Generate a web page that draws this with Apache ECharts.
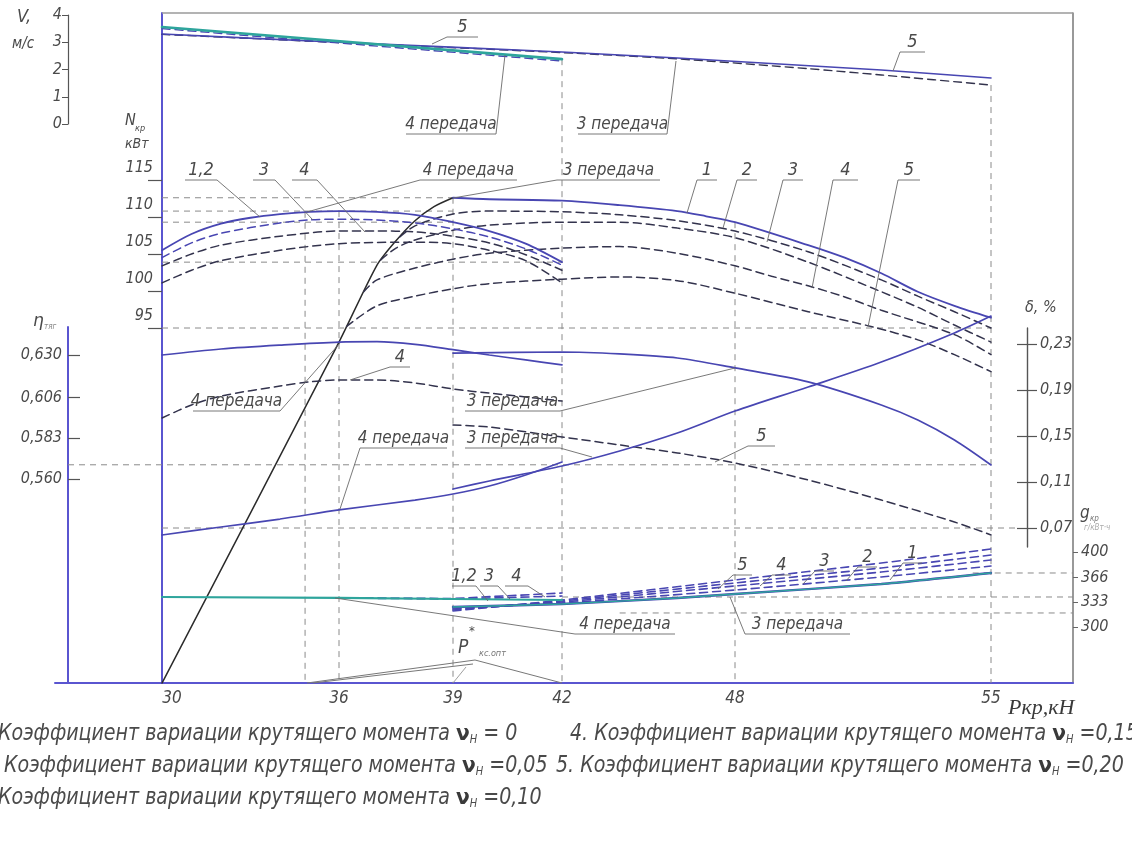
<!DOCTYPE html>
<html lang="ru">
<head>
<meta charset="utf-8">
<title>Тяговые показатели</title>
<script src="https://cdn.jsdelivr.net/npm/echarts@6.0.0/dist/echarts.min.js"></script>
<style>
html,body{margin:0;padding:0;background:#fff;}
#chart{width:1132px;height:841px;}
</style>
</head>
<body>
<div id="chart"></div>
<script>
// ================= values =================
const pkrTicks   = [30, 36, 39, 42, 48, 55];           // Ркр, кН
const vTicks     = [0, 1, 2, 3, 4];                     // V, м/с
const nTicks     = [95, 100, 105, 110, 115];            // Nкр, кВт
const etaTicks   = [0.560, 0.583, 0.606, 0.630];        // ηтяг
const deltaTicks = [0.07, 0.11, 0.15, 0.19, 0.23];      // δ, %
const gTicks     = [300, 333, 366, 400];                // gкр, г/кВт·ч

// speed V, м/с  — [Ркр, V]
const v4_c1 = [[30, 3.56], [42, 2.38]];
const v4_c5 = [[30, 3.50], [42, 2.31]];
const v3_c1 = [[30, 3.30], [36, 3.00], [42, 2.64], [46, 2.42], [52, 1.98], [55, 1.69]];
const v3_c5 = [[30, 3.29], [36, 2.99], [42, 2.62], [46, 2.39], [50, 2.03], [52, 1.80], [55, 1.43]];

// drawbar power Nкр, кВт — 3rd gear
const n3_rise = [[30, 47.0], [36, 93.1], [37, 103.5], [37.5, 106.8], [38, 109.5], [38.5, 111.4], [39, 112.6]];
const n3_c1 = [[39, 112.6], [40, 112.4], [42, 112.2], [44, 111.6], [46, 110.8], [47, 110.1], [48, 109.3], [50, 106.2], [51, 104.5], [52, 102.4], [53, 99.9], [54, 98.0], [55, 96.4]];
const n3_c2 = [[37.6, 107.3], [38, 108.8], [39, 110.4], [40, 110.8], [42, 110.7], [44, 110.3], [46, 109.5], [48, 108.1], [50, 105.3], [52, 101.5], [53, 99.3], [54, 97.2], [55, 95.0]];
const n3_c3 = [[37.1, 104.2], [37.5, 105.8], [38, 106.9], [39, 108.2], [40, 108.9], [42, 109.3], [44, 109.3], [46, 108.5], [48, 107.2], [50, 103.9], [52, 99.9], [53, 97.8], [54, 95.4], [55, 93.1]];
const n3_c4 = [[36.65, 99.9], [37, 101.5], [38, 103.1], [39, 104.3], [40, 105.1], [42, 105.8], [44, 106.0], [46, 105.1], [48, 103.4], [49, 102.0], [50, 100.7], [51, 99.2], [52, 97.4], [54, 94.1], [55, 91.4]];
const n3_c5 = [[36.2, 95.2], [37, 98.0], [38, 99.3], [39, 100.3], [40, 101.0], [42, 101.6], [44, 101.9], [46, 101.4], [48, 99.7], [50, 97.2], [51.8, 95.1], [53, 93.4], [54, 91.4], [55, 89.1]];
// drawbar power Nкр, кВт — 4th gear
const n4_c12 = [[30, 105.5], [31, 107.7], [32, 109.1], [33, 109.9], [34, 110.4], [35, 110.7], [36, 110.8], [37, 110.7], [38, 110.3], [39, 109.3], [40, 108.1], [41, 106.4], [42, 103.9]];
const n4_c3 = [[30, 104.5], [31, 106.5], [32, 107.8], [34, 109.2], [35, 109.6], [36, 109.7], [37, 109.6], [38, 109.2], [39, 108.4], [40, 107.3], [41, 105.7], [42, 103.5]];
const n4_c4 = [[30, 103.4], [31, 105.0], [32, 106.2], [34, 107.4], [36, 108.1], [37, 108.1], [38, 108.0], [39, 107.4], [40, 106.5], [41, 104.9], [42, 102.8]];
const n4_c5 = [[30, 101.1], [31, 102.8], [32, 104.1], [34, 105.5], [36, 106.4], [38, 106.6], [39, 106.4], [40, 105.5], [41, 104.1], [42, 101.1]];

// tractive efficiency ηтяг
const eta4_c1 = [[30, 0.6300], [32, 0.6334], [34, 0.6356], [36, 0.6373], [37, 0.6375], [38, 0.6360], [39, 0.6330], [40, 0.6300], [41, 0.6272], [42, 0.6244]];
const eta4_c4 = [[30, 0.5944], [31, 0.6018], [32, 0.6068], [34, 0.6125], [35, 0.6148], [36, 0.6159], [37, 0.6159], [38, 0.6142], [39, 0.6108], [40, 0.6085], [41, 0.6063], [42, 0.6040]];
const eta3_c1 = [[39, 0.6311], [42, 0.6317], [44, 0.6306], [46, 0.6283], [48, 0.6227], [50, 0.6148], [52, 0.6018], [53, 0.5933], [54, 0.5820], [55, 0.5679]];
const eta3_c5 = [[39, 0.5905], [40, 0.5893], [42, 0.5837], [44, 0.5792], [46, 0.5747], [48, 0.5690], [50, 0.5594], [52, 0.5481], [54, 0.5357], [55, 0.5284]];

// slip δ, %
const delta4 = [[30, 0.0639], [32, 0.0709], [34, 0.0778], [36, 0.0857], [38, 0.0943], [39, 0.0996], [40, 0.1065], [41, 0.1161], [42, 0.1274]];
const delta3 = [[39, 0.1039], [40, 0.1109], [42, 0.1239], [44, 0.1370], [46, 0.1526], [48, 0.1717], [50, 0.1926], [52, 0.2143], [54, 0.2396], [55, 0.2543]];

// specific fuel consumption gкр, г/кВт·ч
const g4_c1 = [[30, 340.0], [36, 338.7], [39, 337.3], [42, 336.0]];
const g4_c3 = [[36, 338.7], [39, 337.3], [42, 341.3]];
const g4_c4 = [[36, 338.7], [39, 338.0], [42, 345.3]];
const g3_c1 = [[39, 326.7], [42, 330.7], [46, 338.7], [48, 344.0], [52, 357.3], [55, 372.0]];
const g3_c2 = [[39, 325.3], [42, 332.0], [48, 349.3], [52, 366.7], [55, 381.3]];
const g3_c3 = [[39, 324.0], [42, 333.3], [48, 354.7], [52, 373.3], [55, 389.3]];
const g3_c4 = [[39, 322.7], [42, 334.7], [48, 358.7], [52, 378.7], [55, 396.0]];
const g3_c5 = [[39, 321.3], [42, 336.0], [48, 362.7], [52, 385.3], [55, 404.0]];

// construction lines: [level, from Ркр, to Ркр]
const nLevels = [[112.6, 30, 39], [110.8, 30, 39], [109.3, 30, 39], [103.9, 30, 42], [95.0, 30, 55]];
const etaLevel = 0.568;
const deltaLevel = 0.07;
const gLevels = [[372.0, 54.5], [340.0, 42], [318.7, 44]];
// vertical construction lines: [Ркр, quantity, upper value]
const pkrLines = [[34.85, 'N', 110.7], [36, 'N', 110.8], [39, 'N', 112.6], [42, 'V', 2.38], [48, 'N', 109.3], [55, 'V', 1.43]];

// ================= layout =================
const FONT = "'Liberation Sans Narrow','DejaVu Sans Condensed','Arial Narrow',sans-serif";
const SERIF = "'Liberation Serif','DejaVu Serif',serif";
const TXT = '#4a4a4a';
const LEAD = '#6a6a6a';
const AXIS_BLUE = '#5a55d0';
const BLUE = '#4846b2';
const DARK = '#33334d';
const TEAL = '#2ea59c';
const REF = '#8a8a8a';

// Main frame: the plot spans x 55..1073, y 13..683; the Ркр = 30 line lies 107 px in.
const U_MIN = -107, U_MAX = 911;
const X_SCALE_U = [0, 177, 291, 400, 573, 829];    // hand-drawn Ркр scale of the nomogram
const ETA_AXIS_U = -94, DELTA_TICK_U = 855;

// vertical ranges of each quantity across the full frame height
const RANGE = {
  N: [47.027, 137.568],
  V: [-20.514, 4.0734],
  eta: [0.44479, 0.82311],
  delta: [-0.06478, 0.51783],
  g: [225.333, 1118.667]
};
const AX = { N: 0, V: 1, eta: 2, delta: 3, g: 4 };

function toU(p) {
  const k = pkrTicks, u = X_SCALE_U;
  let i = 0;
  if (p >= k[k.length - 1]) i = k.length - 2;
  else if (p > k[0]) { while (p > k[i + 1]) i++; }
  return u[i] + (p - k[i]) * (u[i + 1] - u[i]) / (k[i + 1] - k[i]);
}
const xTickU = pkrTicks.map(toU);

function curve(data, yAxisIndex, color, width, dash, smooth, z) {
  return {
    type: 'line', xAxisIndex: 0, yAxisIndex,
    data: data.map(d => [toU(d[0]), d[1]]),
    symbol: 'none', silent: true, smooth: smooth == null ? 0.3 : smooth,
    lineStyle: { color, width, type: dash ? [8, 5] : 'solid', cap: 'round' },
    z: z || 3
  };
}
function segment(pts, yAxisIndex) {
  return {
    type: 'line', xAxisIndex: 0, yAxisIndex, data: pts, symbol: 'none', silent: true,
    lineStyle: { color: REF, width: 1, type: [6, 5] }, z: 1
  };
}

const series = [];
// construction lines
nLevels.forEach(([v, a, b]) => series.push(segment([[toU(a), v], [toU(b), v]], AX.N)));
series.push(segment([[ETA_AXIS_U, etaLevel], [toU(55), etaLevel]], AX.eta));
series.push(segment([[toU(30), deltaLevel], [DELTA_TICK_U, deltaLevel]], AX.delta));
gLevels.forEach(([v, a]) => series.push(segment([[toU(a), v], [U_MAX, v]], AX.g)));
pkrLines.forEach(([p, q, top]) => series.push(segment([[toU(p), top], [toU(p), RANGE[q][0]]], AX[q])));

// speed
series.push(curve(v3_c5, AX.V, DARK, 1.4, true, 0.2));
series.push(curve(v3_c1, AX.V, BLUE, 1.6, false, 0.2));
series.push(curve(v4_c5, AX.V, BLUE, 1.4, true, 0));
series.push(curve(v4_c1, AX.V, TEAL, 2.6, false, 0));
// power, 3rd gear
series.push(curve(n3_rise, AX.N, '#2b2b2b', 1.5, false, 0.25));
series.push(curve(n3_c1, AX.N, BLUE, 1.8, false));
series.push(curve(n3_c2, AX.N, DARK, 1.5, true));
series.push(curve(n3_c3, AX.N, DARK, 1.5, true));
series.push(curve(n3_c4, AX.N, DARK, 1.5, true));
series.push(curve(n3_c5, AX.N, DARK, 1.5, true));
// power, 4th gear
series.push(curve(n4_c5, AX.N, DARK, 1.5, true));
series.push(curve(n4_c4, AX.N, DARK, 1.5, true));
series.push(curve(n4_c3, AX.N, BLUE, 1.5, true));
series.push(curve(n4_c12, AX.N, BLUE, 1.8, false));
// efficiency
series.push(curve(eta4_c1, AX.eta, BLUE, 1.7, false));
series.push(curve(eta4_c4, AX.eta, DARK, 1.5, true));
series.push(curve(eta3_c1, AX.eta, BLUE, 1.7, false));
series.push(curve(eta3_c5, AX.eta, DARK, 1.5, true));
// slip
series.push(curve(delta4, AX.delta, BLUE, 1.7, false));
series.push(curve(delta3, AX.delta, BLUE, 1.7, false));
// fuel consumption
series.push(curve(g3_c5, AX.g, BLUE, 1.6, true, 0.2));
series.push(curve(g3_c4, AX.g, BLUE, 1.6, true, 0.2));
series.push(curve(g3_c3, AX.g, BLUE, 1.6, true, 0.2));
series.push(curve(g3_c2, AX.g, BLUE, 1.6, true, 0.2));
series.push(curve(g3_c1, AX.g, BLUE, 2.4, false, 0.2));
series.push(curve(g3_c1, AX.g, TEAL, 1.4, false, 0.2, 4));
series.push(curve(g4_c4, AX.g, BLUE, 1.6, true, 0));
series.push(curve(g4_c3, AX.g, BLUE, 1.6, true, 0));
series.push(curve(g4_c1, AX.g, TEAL, 2.2, false, 0, 4));

// ================= axes =================
const labelBase = { color: TXT, fontStyle: 'italic', fontFamily: FONT, fontSize: 16 };
const commaFmt = d => v => v.toFixed(d).replace('.', ',');

const grids = [
  { left: 55, top: 13, width: 1018, height: 670, outerBoundsMode: 'none', containLabel: false },
  { left: 68, top: 15, width: 1, height: 109, outerBoundsMode: 'none', containLabel: false },
  { left: 68, top: 327, width: 1, height: 356, outerBoundsMode: 'none', containLabel: false },
  { left: 1017, top: 328, width: 20, height: 219, outerBoundsMode: 'none', containLabel: false }
];
const hiddenX = i => ({ gridIndex: i, type: 'value', min: 0, max: 1, show: false });

const xAxes = [
  {
    gridIndex: 0, type: 'value', min: U_MIN, max: U_MAX, position: 'bottom',
    axisLine: { show: true, onZero: false, lineStyle: { color: AXIS_BLUE, width: 2 } },
    axisTick: { show: false }, splitLine: { show: false },
    axisLabel: Object.assign({}, labelBase, {
      fontSize: 17, customValues: xTickU, margin: 7,
      rich: { first: { fontSize: 17, fontStyle: 'italic', fontFamily: FONT, color: TXT, padding: [0, 0, 0, 20] } },
      formatter: v => {
        const i = xTickU.findIndex(u => Math.abs(u - v) < 0.5);
        if (i < 0) return '';
        return i === 0 ? '{first|' + pkrTicks[i] + '}' : String(pkrTicks[i]);
      }
    })
  },
  hiddenX(1), hiddenX(2), hiddenX(3)
];

const hiddenY = r => ({ gridIndex: 0, type: 'value', min: r[0], max: r[1], show: false });
const yAxes = [
  { // Nкр on the left frame line
    gridIndex: 0, type: 'value', min: RANGE.N[0], max: RANGE.N[1], position: 'left', offset: -107,
    axisLine: { show: true, onZero: false, lineStyle: { color: AXIS_BLUE, width: 2 } },
    axisTick: { show: true, customValues: nTicks, length: 14, lineStyle: { color: '#555', width: 1.2 } },
    axisLabel: Object.assign({}, labelBase, { customValues: nTicks, margin: 9, verticalAlign: 'bottom', padding: [0, 0, 4, 0] }),
    splitLine: { show: false }
  },
  hiddenY(RANGE.V), hiddenY(RANGE.eta), hiddenY(RANGE.delta),
  { // gкр on the right frame line
    gridIndex: 0, type: 'value', min: RANGE.g[0], max: RANGE.g[1], position: 'right', offset: 0,
    axisLine: { show: true, onZero: false, lineStyle: { color: '#777', width: 1.5 } },
    axisTick: { show: true, customValues: gTicks, length: 5, lineStyle: { color: '#666' } },
    axisLabel: Object.assign({}, labelBase, { customValues: gTicks, margin: 8 }),
    splitLine: { show: false }
  },
  { // V
    gridIndex: 1, type: 'value', min: 0, max: 4, interval: 1, position: 'left',
    axisLine: { show: true, onZero: false, lineStyle: { color: '#555', width: 1.2 } },
    axisTick: { show: true, length: 6, lineStyle: { color: '#555' } },
    axisLabel: Object.assign({}, labelBase, { margin: 6 }),
    splitLine: { show: false }
  },
  { // ηтяг
    gridIndex: 2, type: 'value', min: 0.44479, max: 0.64581, position: 'left',
    axisLine: { show: true, onZero: false, lineStyle: { color: AXIS_BLUE, width: 2 } },
    axisTick: { show: true, customValues: etaTicks, inside: true, length: 12, lineStyle: { color: '#555', width: 1.2 } },
    axisLabel: Object.assign({}, labelBase, { customValues: etaTicks, margin: 6, formatter: commaFmt(3) }),
    splitLine: { show: false }
  },
  { // δ — cross ticks
    gridIndex: 3, type: 'value', min: 0.05348, max: 0.24391, position: 'left',
    axisLine: { show: false, onZero: false },
    axisTick: { show: true, customValues: deltaTicks, inside: true, length: 20, lineStyle: { color: '#555', width: 1.2 } },
    axisLabel: { show: false }, splitLine: { show: false }
  },
  { // δ — axis line and labels
    gridIndex: 3, type: 'value', min: 0.05348, max: 0.24391, position: 'left', offset: -10,
    axisLine: { show: true, onZero: false, lineStyle: { color: '#555', width: 1.4 } },
    axisTick: { show: false },
    axisLabel: Object.assign({}, labelBase, { customValues: deltaTicks, inside: true, margin: 13, formatter: commaFmt(2) }),
    splitLine: { show: false }
  }
];

// ================= annotations =================
const txtStyle = (text, size, extra) => Object.assign({
  text, fill: TXT, fontSize: size, fontFamily: FONT, fontStyle: 'italic'
}, extra || {});

// [text, underline x1, x2, y, leader end x, y, leader from left end]
const callouts = [
  ['5', 447, 478, 37, 432, 44, true],
  ['4 передача', 406, 496, 134, 505, 55, false],
  ['3 передача', 578, 667, 134, 676, 61, false],
  ['5', 900, 925, 52, 893, 71, true],
  ['1,2', 185, 217, 180, 260, 217, false],
  ['3', 253, 275, 180, 313, 220, false],
  ['4', 292, 317, 180, 365, 232, false],
  ['4 передача', 420, 517, 180, 307, 212, true],
  ['3 передача', 557, 660, 180, 453, 198, true],
  ['1', 697, 717, 180, 687, 213, true],
  ['2', 737, 757, 180, 723, 228, true],
  ['3', 783, 803, 180, 767, 242, true],
  ['4', 833, 858, 180, 812, 288, true],
  ['5', 898, 920, 180, 868, 327, true],
  ['4', 390, 410, 367, 350, 380, true],
  ['4 передача', 193, 280, 411, 340, 343, false],
  ['3 передача', 465, 560, 411, 735, 368, false],
  ['4 передача', 360, 447, 448, 340, 509, true],
  ['3 передача', 465, 560, 448, 592, 457, false],
  ['5', 748, 775, 446, 715, 462, true],
  ['1,2', 452, 476, 586, 488, 601, false],
  ['3', 480, 498, 586, 510, 599, false],
  ['4', 505, 528, 586, 545, 597, false],
  ['5', 733, 752, 575, 718, 589, true],
  ['4', 772, 791, 575, 760, 586, true],
  ['3', 815, 834, 571, 803, 584, true],
  ['2', 858, 877, 567, 846, 581, true],
  ['1', 903, 922, 563, 890, 580, true],
  ['4 передача', 575, 675, 634, 335, 598, true],
  ['3 передача', 745, 850, 634, 730, 597, true]
];

const graphics = [];
const line = (pts, color, w) => ({ type: 'polyline', shape: { points: pts }, style: { stroke: color || LEAD, lineWidth: w || 0.9, fill: null }, silent: true, z: 10 });
const text = (x, y, style, extra) => Object.assign({ type: 'text', x, y, style, silent: true, z: 11 }, extra || {});

callouts.forEach(([t, x1, x2, y, px, py, fromLeft]) => {
  graphics.push(line([[x1, y], [x2, y]]));
  graphics.push(line([[fromLeft ? x1 : x2, y], [px, py]]));
  graphics.push(text((x1 + x2) / 2, y - 1, txtStyle(t, t.length > 3 ? 17 : 18, { align: 'center', verticalAlign: 'bottom' })));
});

// frame top edge
graphics.push(line([[162, 13], [1073, 13]], '#9a9a9a', 1.5));

// P*кс.опт pointer
graphics.push(line([[307, 683], [475, 660], [562, 683]], '#777', 1));
graphics.push(line([[313, 683], [473, 664]], '#777', 1));
graphics.push(line([[453, 683], [466, 667]], '#888', 0.8));
graphics.push(text(458, 648, txtStyle('P', 19, { verticalAlign: 'middle' })));
graphics.push(text(469, 632, txtStyle('*', 13, { verticalAlign: 'middle' })));
graphics.push(text(479, 654, txtStyle('кс.опт', 9, { verticalAlign: 'middle', fill: '#777' })));

// axis titles
graphics.push(text(17, 17, txtStyle('V,', 18, { verticalAlign: 'middle' })));
graphics.push(text(12, 44, txtStyle('м/с', 15, { verticalAlign: 'middle' })));
graphics.push(text(125, 121, txtStyle('N', 16, { verticalAlign: 'middle' })));
graphics.push(text(135, 129, txtStyle('кр', 9, { verticalAlign: 'middle' })));
graphics.push(text(125, 144, txtStyle('кВт', 14, { verticalAlign: 'middle' })));
graphics.push(text(33, 322, txtStyle('η', 17, { verticalAlign: 'middle', fontFamily: "'DejaVu Sans'" })));
graphics.push(text(44, 327, txtStyle('тяг', 8, { verticalAlign: 'middle', fill: '#888' })));
graphics.push(text(1025, 308, txtStyle('δ, %', 16, { verticalAlign: 'middle' })));
graphics.push(text(1080, 514, txtStyle('g', 17, { verticalAlign: 'middle' })));
graphics.push(text(1090, 519, txtStyle('кр', 8, { verticalAlign: 'middle', fill: '#777' })));
graphics.push(text(1084, 528, txtStyle('г/кВт·ч', 8, { verticalAlign: 'middle', fill: '#aaa' })));
graphics.push(text(1008, 708, { text: 'Pкр,кН', fill: '#3a3a3a', fontSize: 22, fontFamily: SERIF, fontStyle: 'italic', verticalAlign: 'middle' }));

// legend rows
const NU_RICH = {
  nu: { fontSize: 22, fontWeight: 'bold', fontFamily: "'DejaVu Sans'", fill: '#3a3a3a' },
  sub: { fontSize: 12, fontFamily: FONT, fontStyle: 'italic', fill: TXT, padding: [12, 0, 0, 0] }
};
const legendRows = [
  [-2, 734, '', '= 0'],
  [4, 766, '', '=0,05'],
  [-2, 798, '', '=0,10'],
  [570, 734, '4. ', '=0,15'],
  [556, 766, '5. ', '=0,20']
];
legendRows.forEach(([x, y, pre, val]) => {
  graphics.push(text(x, y, {
    text: pre + 'Коэффициент вариации крутящего момента {nu|ν}{sub|Н} ' + val,
    fill: TXT, fontSize: 23, fontFamily: FONT, fontStyle: 'italic', verticalAlign: 'middle',
    rich: NU_RICH
  }, { scaleX: 0.92 }));
});

const chart = echarts.init(document.getElementById('chart'), null, { renderer: 'canvas' });
chart.setOption({
  animation: false,
  backgroundColor: '#ffffff',
  grid: grids,
  xAxis: xAxes,
  yAxis: yAxes,
  series,
  graphic: { elements: graphics }
});
</script>
</body>
</html>
